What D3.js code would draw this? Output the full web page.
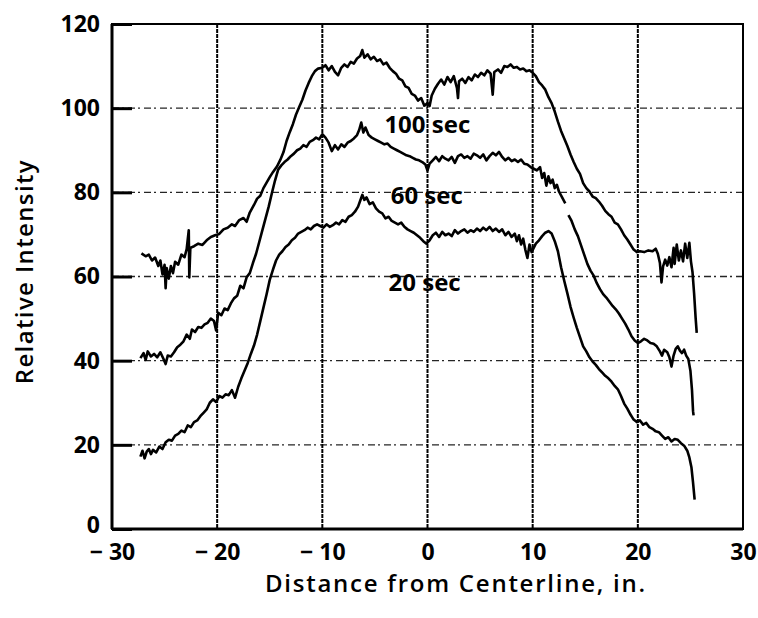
<!DOCTYPE html>
<head>
  <meta charset="utf-8">
  <style>
    body { margin: 0; background: #fff; }
    svg text { font-family: "Open Sans", sans-serif; fill: #000; }
    svg .tick text { font-size: 23px; font-weight: bold; }
    svg .domain { display: none; }
    .grid-h { stroke: #000; stroke-width: 1.4px; stroke-dasharray: 7,3,2,4; opacity: 0.85; }
    .grid-v { stroke: #000; stroke-width: 2px; stroke-dasharray: 4,1; }
    .trace { fill: none; stroke: #000; stroke-width: 2.6px; stroke-linejoin: round; }
  </style>
</head>
<body>
<script src="https://d3js.org/d3.v7.min.js"></script>
<script>
  // tick values
  var xTicks = [-30, -20, -10, 0, 10, 20, 30];
  var yTicks = [0, 20, 40, 60, 80, 100, 120];
  var xGrid = [-20, -10, 0, 10, 20];
  var yGrid = [20, 40, 60, 80, 100];

  // curve labels: [text, x, y]
  var curveLabels = [["100 sec", -4.1, 94.0], ["60 sec", -3.5, 77.2], ["20 sec", -3.7, 56.6]];

  // traces, [distance, intensity]; null = break in the pen trace
  var s100 = [
    [-27.2,65.5],[-26.8,64.8],[-26.5,65.2],[-26.2,63.8],[-25.9,64.5],[-25.6,62.5],[-25.4,63.8],[-25.2,60.5],[-25.0,62.8],[-24.9,57.2],
    [-24.8,62.0],[-24.6,59.5],[-24.4,62.5],[-24.2,60.8],[-24.0,63.5],[-23.7,62.8],[-23.4,65.2],[-23.1,64.6],[-22.9,66.5],[-22.7,71.0],
    [-22.65,59.8],[-22.55,66.8],[-22.2,67.2],[-21.8,67.8],[-21.4,67.5],[-21.0,68.6],[-20.6,69.4],[-20.2,69.8],[-19.8,70.1],[-19.4,71.2],
    [-19.0,71.6],[-18.6,72.4],[-18.3,72.0],[-17.9,73.4],[-17.5,73.9],[-17.2,73.0],[-16.9,75.2],[-16.5,77.0],[-16.2,78.5],[-15.9,79.2],
    [-15.6,81.0],[-15.3,82.3],[-15.0,83.6],[-14.7,84.8],[-14.3,86.2],[-14.0,87.7],[-13.7,89.5],[-13.4,92.2],[-13.1,94.3],[-12.8,96.2],
    [-12.5,98.5],[-12.2,100.3],[-11.9,102.0],[-11.6,104.2],[-11.3,106.0],[-11.0,107.6],[-10.7,108.8],[-10.4,109.4],[-10.0,109.6],[-9.7,110.2],
    [-9.4,109.0],[-9.1,110.0],[-8.8,108.6],[-8.5,107.8],[-8.2,109.6],[-7.9,110.4],[-7.6,109.8],[-7.3,111.0],[-7.0,110.6],[-6.7,111.8],
    [-6.4,112.4],[-6.2,113.8],[-6.0,112.0],[-5.7,112.8],[-5.4,111.6],[-5.1,112.2],[-4.8,111.2],[-4.5,111.6],[-4.2,110.4],[-3.9,110.8],
    [-3.6,109.6],[-3.3,108.8],[-3.0,108.2],[-2.7,107.0],[-2.4,106.6],[-2.1,105.2],[-1.8,104.8],[-1.5,103.4],[-1.2,103.0],[-0.9,101.8],
    [-0.6,102.4],[-0.3,100.6],[0.0,101.2],[0.2,100.5],[0.4,103.0],[0.7,104.6],[1.0,105.8],[1.3,106.8],[1.6,105.6],[1.9,107.4],
    [2.2,106.2],[2.5,107.6],[2.8,104.8],[2.9,102.4],[3.0,106.4],[3.3,107.0],[3.6,106.0],[3.9,107.4],[4.2,106.6],[4.5,108.0],
    [4.8,107.4],[5.1,108.4],[5.4,107.8],[5.7,109.0],[6.0,108.2],[6.2,103.2],[6.35,108.6],[6.7,109.2],[7.0,108.4],[7.3,110.0],
    [7.6,109.8],[7.9,110.4],[8.2,109.6],[8.5,109.8],[8.8,109.2],[9.1,109.4],[9.4,108.8],[9.7,109.0],[10.0,108.4],[10.3,107.6],
    [10.6,106.2],[10.9,105.4],[11.2,104.4],[11.5,102.6],[11.8,101.2],[12.1,99.2],[12.4,96.8],[12.7,94.6],[13.0,92.8],[13.3,91.0],
    [13.6,89.0],[13.9,87.2],[14.2,85.6],[14.5,84.4],[14.8,82.2],[15.1,81.0],[15.4,80.2],[15.7,79.0],[16.0,78.6],[16.3,77.8],
    [16.6,76.8],[16.9,75.6],[17.2,74.8],[17.5,74.2],[17.8,72.8],[18.1,72.4],[18.4,71.2],[18.7,69.8],[19.0,68.8],[19.3,67.6],
    [19.6,66.4],[19.9,65.8],[20.2,66.0],[20.6,65.8],[21.0,66.2],[21.4,66.0],[21.7,66.6],[21.9,65.4],[22.1,63.2],[22.25,58.6],
    [22.4,62.4],[22.6,64.0],[22.8,62.6],[23.0,64.6],[23.2,62.2],[23.4,66.8],[23.5,63.0],[23.7,67.6],[23.9,63.8],[24.1,66.2],
    [24.3,63.6],[24.5,67.8],[24.7,64.4],[24.9,68.0],[25.05,63.6],[25.2,61.0],[25.35,56.0],[25.5,50.0],[25.6,46.6]
  ];

  var s60 = [
    [-27.3,40.6],[-27.0,41.8],[-26.8,40.2],[-26.6,42.2],[-26.3,41.0],[-26.0,41.6],[-25.7,40.8],[-25.4,42.0],[-25.1,40.4],[-24.9,39.2],
    [-24.7,41.2],[-24.4,41.0],[-24.1,42.0],[-23.8,43.2],[-23.5,43.8],[-23.2,44.6],[-22.9,46.2],[-22.6,45.2],[-22.4,47.4],[-22.1,46.8],
    [-21.8,48.0],[-21.5,47.8],[-21.2,48.6],[-20.9,49.0],[-20.6,50.0],[-20.3,49.4],[-20.1,47.2],[-19.9,51.4],[-19.6,50.8],[-19.3,52.4],
    [-19.0,52.0],[-18.7,53.6],[-18.4,54.8],[-18.1,55.4],[-17.8,57.8],[-17.5,57.2],[-17.2,59.8],[-16.9,60.8],[-16.6,63.2],[-16.3,65.4],
    [-16.0,68.2],[-15.7,71.0],[-15.4,73.8],[-15.1,76.6],[-14.8,79.8],[-14.5,82.8],[-14.2,85.4],[-13.9,86.4],[-13.6,87.2],[-13.3,87.8],
    [-13.0,88.6],[-12.7,89.2],[-12.4,90.0],[-12.1,90.4],[-11.8,91.2],[-11.5,90.8],[-11.2,92.0],[-10.9,92.4],[-10.6,93.0],[-10.3,92.6],
    [-10.0,93.8],[-9.7,93.0],[-9.4,91.8],[-9.1,89.8],[-8.8,91.2],[-8.5,90.2],[-8.2,91.4],[-7.9,90.8],[-7.6,91.8],[-7.3,92.2],
    [-7.0,92.8],[-6.7,93.6],[-6.5,94.8],[-6.3,96.6],[-6.1,94.2],[-5.9,95.4],[-5.6,93.6],[-5.3,93.0],[-5.0,92.6],[-4.7,92.2],
    [-4.4,91.8],[-4.1,91.4],[-3.8,91.6],[-3.5,90.8],[-3.2,90.4],[-2.9,90.0],[-2.6,89.6],[-2.3,89.2],[-2.0,88.8],[-1.7,88.6],
    [-1.4,88.2],[-1.1,87.8],[-0.8,87.6],[-0.5,87.2],[-0.2,86.6],[0.0,85.2],[0.2,86.8],[0.5,87.6],[0.8,88.4],[1.1,87.4],
    [1.4,88.6],[1.7,88.0],[2.0,87.6],[2.3,88.4],[2.6,87.0],[2.9,88.6],[3.2,89.0],[3.5,88.2],[3.8,88.6],[4.1,88.0],
    [4.4,89.2],[4.7,88.8],[5.0,88.2],[5.3,89.0],[5.6,87.6],[5.9,88.6],[6.2,89.4],[6.5,88.8],[6.8,89.6],[7.1,88.4],
    [7.4,87.6],[7.7,88.2],[8.0,87.4],[8.3,87.8],[8.6,87.2],[8.9,87.8],[9.2,86.8],[9.5,86.6],[9.8,86.0],[10.1,85.6],
    [10.4,85.2],[10.7,86.0],[10.9,83.4],[11.1,84.6],[11.3,81.6],[11.5,83.8],[11.7,82.2],[11.9,83.0],[12.1,81.0],[12.3,81.8],
    [12.5,80.2],[12.8,78.8],[13.1,77.4],null,[13.4,74.6],[13.7,73.2],[14.0,71.2],[14.3,69.6],[14.6,67.4],[14.9,65.2],
    [15.2,63.0],[15.5,61.4],[15.8,60.2],[16.1,58.4],[16.4,57.0],[16.7,55.8],[17.0,55.0],[17.3,54.0],[17.6,53.0],[17.9,52.2],
    [18.2,51.2],[18.5,50.0],[18.8,48.8],[19.1,47.4],[19.4,45.8],[19.7,44.8],[20.0,44.2],[20.3,44.6],[20.6,45.2],[20.9,44.8],
    [21.2,44.2],[21.5,44.0],[21.8,43.4],[22.1,42.2],[22.3,41.2],[22.5,42.6],[22.8,42.0],[23.0,40.8],[23.2,38.6],[23.4,41.2],
    [23.6,42.8],[23.8,43.4],[24.0,42.4],[24.2,41.8],[24.4,42.6],[24.6,41.2],[24.8,40.4],[25.0,37.6],[25.15,33.0],[25.25,28.0],[25.3,27.0]
  ];

  var s20 = [
    [-27.3,17.2],[-27.1,18.6],[-26.9,16.8],[-26.7,18.4],[-26.5,19.0],[-26.3,17.8],[-26.1,18.8],[-25.8,18.2],[-25.5,19.6],[-25.2,19.0],
    [-24.9,20.6],[-24.6,21.2],[-24.3,21.0],[-24.0,22.2],[-23.7,22.6],[-23.4,23.4],[-23.1,23.0],[-22.8,24.6],[-22.5,24.2],[-22.2,25.4],
    [-21.9,25.8],[-21.6,26.8],[-21.3,27.6],[-21.0,28.4],[-20.7,30.0],[-20.4,30.8],[-20.1,30.2],[-19.8,31.6],[-19.5,31.2],[-19.2,32.0],
    [-18.9,31.8],[-18.6,33.0],[-18.3,31.2],[-18.0,33.8],[-17.7,35.8],[-17.4,37.6],[-17.1,39.4],[-16.8,41.6],[-16.5,43.6],[-16.2,46.2],
    [-15.9,49.4],[-15.6,52.6],[-15.3,55.8],[-15.0,59.2],[-14.7,61.6],[-14.4,63.8],[-14.1,65.2],[-13.8,66.0],[-13.5,67.0],[-13.2,67.6],
    [-12.9,68.6],[-12.6,69.2],[-12.3,70.2],[-12.0,70.6],[-11.7,71.0],[-11.4,71.6],[-11.1,71.2],[-10.8,72.0],[-10.5,72.4],[-10.2,72.0],
    [-9.9,71.6],[-9.6,72.4],[-9.3,71.8],[-9.0,72.2],[-8.7,72.8],[-8.4,72.4],[-8.1,73.4],[-7.8,73.0],[-7.5,74.2],[-7.2,74.6],
    [-6.9,75.4],[-6.6,76.6],[-6.4,78.0],[-6.2,79.4],[-6.0,78.2],[-5.8,78.8],[-5.5,77.2],[-5.2,77.6],[-4.9,76.2],[-4.6,75.4],
    [-4.3,75.0],[-4.0,73.8],[-3.7,74.2],[-3.4,73.2],[-3.1,72.8],[-2.8,72.4],[-2.5,72.8],[-2.2,71.8],[-1.9,71.2],[-1.6,70.8],
    [-1.3,70.4],[-1.0,69.8],[-0.7,69.2],[-0.4,68.4],[-0.1,67.8],[0.2,68.6],[0.5,69.8],[0.8,70.4],[1.1,69.4],[1.4,70.6],
    [1.7,69.8],[2.0,70.2],[2.3,69.6],[2.6,71.0],[2.9,70.2],[3.2,70.8],[3.5,71.2],[3.8,70.4],[4.1,71.0],[4.4,70.6],
    [4.7,71.4],[5.0,70.8],[5.3,71.6],[5.6,71.0],[5.9,71.8],[6.2,70.8],[6.5,71.4],[6.8,70.6],[7.1,71.2],[7.4,69.8],
    [7.7,70.6],[8.0,69.4],[8.3,70.2],[8.5,68.4],[8.7,69.8],[8.9,67.6],[9.1,69.0],[9.3,66.4],[9.5,64.4],[9.7,67.6],
    [9.9,65.8],[10.1,66.8],[10.3,67.8],[10.6,68.6],[10.9,69.6],[11.2,70.4],[11.5,70.8],[11.8,70.2],[12.1,68.4],[12.4,66.0],
    [12.7,62.2],[13.0,59.0],[13.3,56.0],[13.6,52.8],[13.9,50.2],[14.2,47.8],[14.5,45.6],[14.8,43.4],[15.1,42.2],[15.4,40.8],
    [15.7,39.8],[16.0,39.0],[16.3,38.0],[16.6,37.2],[16.9,36.4],[17.2,35.8],[17.5,35.0],[17.8,34.0],[18.1,33.2],[18.4,31.6],
    [18.7,29.8],[19.0,28.6],[19.3,27.2],[19.6,26.0],[19.9,25.4],[20.2,25.8],[20.5,24.8],[20.8,25.2],[21.1,24.2],[21.4,23.8],
    [21.7,23.2],[22.0,23.0],[22.3,22.2],[22.6,21.4],[22.9,21.8],[23.2,20.8],[23.5,21.4],[23.8,21.2],[24.1,20.4],[24.4,19.8],
    [24.7,18.6],[24.9,17.0],[25.1,14.6],[25.25,11.0],[25.4,7.0]
  ];

  var width = 758, height = 618;
  var svg = d3.select("body").append("svg")
      .attr("width", width)
      .attr("height", height);

  var x = d3.scaleLinear().domain([-30, 30]).range([112, 743]);
  var y = d3.scaleLinear().domain([0, 120]).range([529, 24]);

  // grid lines
  svg.selectAll("line.grid-h").data(yGrid).enter().append("line")
      .attr("class", "grid-h")
      .attr("x1", x(-30)).attr("x2", x(30))
      .attr("y1", function (d) { return y(d); })
      .attr("y2", function (d) { return y(d); });

  svg.selectAll("line.grid-v").data(xGrid).enter().append("line")
      .attr("class", "grid-v")
      .attr("x1", function (d) { return x(d); })
      .attr("x2", function (d) { return x(d); })
      .attr("y1", y(120)).attr("y2", y(0));

  // frame
  svg.append("rect")
      .attr("x", x(-30)).attr("y", y(120))
      .attr("width", x(30) - x(-30)).attr("height", y(0) - y(120))
      .style("fill", "none").style("stroke", "#000").style("stroke-width", "2px");
  svg.append("line")
      .attr("x1", x(-30)).attr("x2", x(30)).attr("y1", y(0)).attr("y2", y(0))
      .style("stroke", "#000").style("stroke-width", "3px");
  svg.append("line")
      .attr("x1", x(-30)).attr("x2", x(-30)).attr("y1", y(0)).attr("y2", y(120))
      .style("stroke", "#000").style("stroke-width", "3px");

  // axes
  var yAxis = d3.axisLeft(y).tickValues(yTicks)
      .tickSizeInner(-20).tickSizeOuter(0).tickPadding(12);
  var ya = svg.append("g")
      .attr("transform", "translate(" + x(-30) + ",0)")
      .call(yAxis);
  ya.selectAll(".tick line").style("stroke-width", "3px");
  // the "0" sits a touch above the axis line, clear of "- 30"
  ya.selectAll(".tick text")
    .filter(function (d) { return d === 0; })
      .attr("y", -4);

  var xAxis = d3.axisBottom(x).tickValues(xTicks)
      .tickSize(0).tickPadding(15)
      .tickFormat(function (d) { return d < 0 ? "\u2212 " + Math.abs(d) : d; });
  svg.append("g")
      .attr("transform", "translate(0," + y(0) + ")")
      .call(xAxis);

  // axis titles
  svg.append("text")
      .attr("transform", "translate(33," + y(61) + ") rotate(-90)")
      .attr("text-anchor", "middle")
      .attr("textLength", 224)
      .style("font-size", "24px")
      .style("font-weight", "600")
      .text("Relative Intensity");

  svg.append("text")
      .attr("x", 455)
      .attr("y", 592)
      .attr("text-anchor", "middle")
      .attr("textLength", 380)
      .style("font-size", "24px")
      .style("font-weight", "600")
      .text("Distance from Centerline, in.");

  // traces
  var line = d3.line()
      .defined(function (d) { return d !== null; })
      .x(function (d) { return x(d[0]); })
      .y(function (d) { return y(d[1]); });

  [s100, s60, s20].forEach(function (s) {
    svg.append("path")
        .attr("class", "trace")
        .attr("d", line(s));
  });

  // curve labels
  svg.selectAll("text.clabel").data(curveLabels).enter().append("text")
      .attr("class", "clabel")
      .attr("x", function (d) { return x(d[1]); })
      .attr("y", function (d) { return y(d[2]); })
      .style("font-size", "24px")
      .style("font-weight", "bold")
      .text(function (d) { return d[0]; });
</script>
</body>
</html>
